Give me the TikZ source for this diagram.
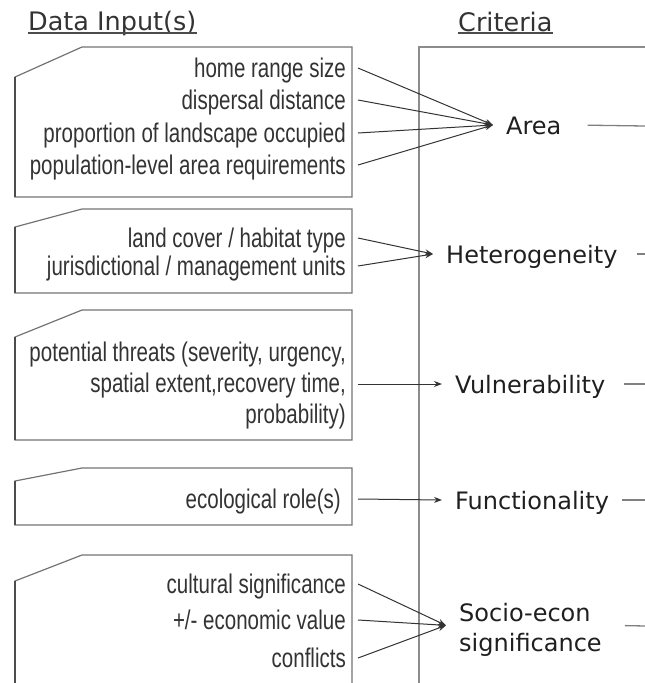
\documentclass[tikz,border=0pt]{standalone}
\usepackage{fontspec}
\setmainfont{Liberation Sans}
\newfontfamily\narrowfont[FakeStretch=0.76]{Liberation Sans}
\newfontfamily\critfont{DejaVu Sans}
\usetikzlibrary{arrows.meta}

\tikzset{
  inbox/.style={draw=black!55, line width=1.2pt},
  inedge/.style={draw=black!70, line width=2.6pt},
  intext/.style={anchor=base east, inner xsep=12pt, inner ysep=0pt, text height=18pt, text depth=0pt,
    font=\narrowfont\fontsize{27}{30}\selectfont, text=black!80},
  crit/.style={anchor=base west, inner xsep=13pt, inner ysep=0pt, text height=18pt, text depth=0pt,
    font=\critfont\fontsize{24}{30}\selectfont, text=black!88},
  heading/.style={anchor=base west, inner sep=0pt, font=\critfont\fontsize{25.5}{30}\selectfont, text=black!80},
  uline/.style={draw=black!70, line width=1.2pt},
  feed/.style={draw=black!80, line width=1pt, -{Stealth[length=8pt,width=6pt]}},
  onward/.style={draw=black!50, line width=1.3pt, shorten <=6pt},
}

\begin{document}
\begin{tikzpicture}[x=1pt,y=-1pt]
    \useasboundingbox (0,0) rectangle (645,683);
    \clip (0,0) rectangle (645,683);

    \node[heading] (datain) at (28,30) {Data Input(s)};
    \node[heading] (crithead) at (458,31) {Criteria};
    \draw[uline] ([yshift=-3pt]datain.base west) -- ([yshift=-3pt]datain.base east);
    \draw[uline] ([yshift=-2pt]crithead.base west) -- ([yshift=-2pt]crithead.base east);

    \draw[inbox] (15,197) -- (15,77) -- (82,47) -- (352,47) -- (352,197) -- cycle;
    \draw[inbox] (15,293) -- (15,227) -- (82,209) -- (352,209) -- (352,293) -- cycle;
    \draw[inbox] (15,440) -- (15,337) -- (82,310) -- (352,310) -- (352,440) -- cycle;
    \draw[inbox] (15,525) -- (15,481) -- (82,468) -- (352,468) -- (352,525) -- cycle;
    \draw[inbox] (15,700) -- (15,581) -- (82,555) -- (352,555) -- (352,700);
    \draw[inedge] (15,197) -- (15,77);
    \draw[inedge] (15,293) -- (15,227);
    \draw[inedge] (15,440) -- (15,337);
    \draw[inedge] (15,525) -- (15,481);
    \draw[inedge] (15,700) -- (15,581);

    \draw[draw=black!45, line width=1.5pt] (419,700) -- (419,47) -- (650,47);

    \node[intext] (home) at (358,77) {home range size};
    \node[intext] (disp) at (358,109) {dispersal distance};
    \node[intext] (prop) at (358,142) {proportion of landscape occupied};
    \node[intext] (pop) at (358,174) {population-level area requirements};

    \node[intext] (cover) at (358,247) {land cover / habitat type};
    \node[intext] (units) at (358,275) {jurisdictional / management units};

    \node[anchor=east, align=right, inner xsep=12pt, inner ysep=0pt,
      font=\narrowfont\fontsize{27}{31}\selectfont, text=black!80] (threat) at (358,386)
      {potential threats (severity, urgency,\\ spatial extent,recovery time,\\ probability)};

    \node[intext, inner xsep=17pt] (role) at (358,508) {ecological role(s)};

    \node[intext] (cult) at (358,593) {cultural significance};
    \node[intext] (econ) at (358,629) {+/- economic value};
    \node[intext] (confl) at (358,667) {conflicts};

    \node[crit] (area) at (493,134) {Area};
    \node[crit] (hetero) at (433,263) {Heterogeneity};
    \node[crit] (vuln) at (442,393) {Vulnerability};
    \node[crit] (func) at (442,509) {Functionality};
    \node[anchor=base west, align=left, inner xsep=13pt, inner ysep=0pt,
      font=\critfont\fontsize{24}{30}\selectfont, text=black!88] (socio) at (446,651)
      {Socio-econ\\ significance};

    \foreach \s in {home,disp,prop,pop}
      \draw[feed] (\s.east) -- (area.west);
    \foreach \s in {cover,units}
      \draw[feed] (\s.east) -- (hetero.west);
    \draw[feed] ([yshift=2pt]threat.east) -- (vuln.west);
    \draw[feed] (role.east) -- (func.west);
    \foreach \s in {cult,econ,confl}
      \draw[feed] (\s.east) -- ([yshift=4pt]socio.west);

    \coordinate (areaR) at (645,126);
    \coordinate (heteroR) at (645,254);
    \coordinate (vulnR) at (645,384);
    \coordinate (funcR) at (645,500);
    \coordinate (socioR) at (645,626);
    \draw[onward, shorten <=13pt] (area.east) -- (areaR);
    \draw[onward] (hetero.east) -- (heteroR);
    \draw[onward] (vuln.east) -- (vulnR);
    \draw[onward, shorten <=0pt] (func.east) -- (funcR);
    \draw[onward, shorten <=10pt] ([yshift=4pt]socio.east) -- (socioR);
\end{tikzpicture}
\end{document}
